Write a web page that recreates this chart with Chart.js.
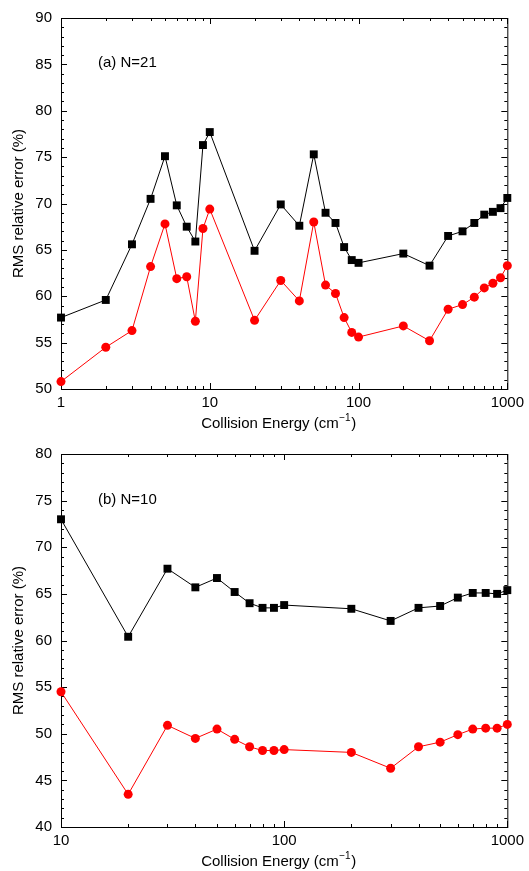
<!DOCTYPE html>
<html>
<head>
<meta charset="utf-8">
<script src="https://cdn.jsdelivr.net/npm/chart.js@4.4.1/dist/chart.umd.min.js"></script>
<style>
body { margin: 0; background: #fff; }
canvas { display: block; }
</style>
</head>
<body>
<canvas id="chartA" width="529" height="436"></canvas>
<canvas id="chartB" width="529" height="435"></canvas>
<script>
// panel (a) N=21
const energyA = [1, 2, 3, 4, 5, 6, 7, 8, 9, 10, 20, 30, 40, 50, 60, 70, 80, 90, 100, 200, 300, 400, 500, 600, 700, 800, 900, 1000];
const squaresA = [57.7, 59.6, 65.6, 70.5, 75.1, 69.8, 67.5, 65.9, 76.3, 77.7, 64.9, 69.9, 67.6, 75.3, 69.0, 67.9, 65.3, 63.9, 63.6, 64.6, 63.3, 66.5, 67.0, 67.9, 68.8, 69.1, 69.5, 70.6];
const circlesA = [50.8, 54.5, 56.3, 63.2, 67.8, 61.9, 62.1, 57.3, 67.3, 69.4, 57.4, 61.7, 59.5, 68.0, 61.2, 60.3, 57.7, 56.1, 55.6, 56.8, 55.2, 58.6, 59.1, 59.9, 60.9, 61.4, 62.0, 63.3];
const decadesA = [1, 10, 100, 1000];

// panel (b) N=10
const energyB = [10, 20, 30, 40, 50, 60, 70, 80, 90, 100, 200, 300, 400, 500, 600, 700, 800, 900, 1000];
const squaresB = [73.0, 60.4, 67.7, 65.7, 66.7, 65.2, 64.0, 63.5, 63.5, 63.8, 63.4, 62.1, 63.5, 63.7, 64.6, 65.1, 65.1, 65.0, 65.4];
const circlesB = [54.5, 43.5, 50.9, 49.5, 50.5, 49.4, 48.6, 48.2, 48.2, 48.3, 48.0, 46.3, 48.6, 49.1, 49.9, 50.5, 50.6, 50.6, 51.0];
const decadesB = [10, 100, 1000];

const FONT = '"Liberation Sans", Arial, Helvetica, sans-serif';
Chart.defaults.font.family = FONT;
Chart.defaults.font.size = 15;
Chart.defaults.color = '#000';

// box with inward ticks on all four sides, plus titles and panel label
const framePlugin = {
    id: 'frame',
    beforeDatasetsDraw(chart, args, opts) {
        const { ctx, chartArea: a, scales: { x, y } } = chart;
        ctx.save();
        ctx.strokeStyle = '#000';
        ctx.lineWidth = 1;
        ctx.strokeRect(a.left + 0.5, a.top + 0.5, a.right - a.left, a.bottom - a.top);
        ctx.beginPath();
        opts.decades.forEach(d => {
            for (let m = 1; m < 10; m++) {
                const v = d * m;
                if (v < x.min || v > x.max) continue;
                const px = Math.round(x.getPixelForValue(v)) + 0.5;
                const len = m === 1 ? 6 : 3;
                ctx.moveTo(px, a.bottom); ctx.lineTo(px, a.bottom - len);
                ctx.moveTo(px, a.top); ctx.lineTo(px, a.top + len);
            }
        });
        for (let v = y.min; v <= y.max; v++) {
            const py = Math.round(y.getPixelForValue(v)) + 0.5;
            const len = v % 5 === 0 ? 6 : 3;
            ctx.moveTo(a.left, py); ctx.lineTo(a.left + len, py);
            ctx.moveTo(a.right, py); ctx.lineTo(a.right - len, py);
        }
        ctx.stroke();
        ctx.restore();
    },
    afterDraw(chart, args, opts) {
        const { ctx, chartArea: a } = chart;
        ctx.save();
        ctx.fillStyle = '#000';
        ctx.textBaseline = 'middle';

        // panel label
        ctx.font = '15px ' + FONT;
        ctx.textAlign = 'left';
        ctx.fillText(opts.label, 98, opts.labelY);

        // x title with superscript
        const main = 'Collision Energy (cm';
        const sup = '\u22121';
        const w1 = ctx.measureText(main).width;
        const w3 = ctx.measureText(')').width;
        ctx.font = '10px ' + FONT;
        const w2 = ctx.measureText(sup).width;
        let tx = (a.left + a.right) / 2 - 6 - (w1 + w2 + w3) / 2;
        const ty = a.bottom + 35;
        ctx.font = '15px ' + FONT;
        ctx.fillText(main, tx, ty);
        ctx.font = '10px ' + FONT;
        ctx.fillText(sup, tx + w1 + 0.5, ty - 6);
        ctx.font = '15px ' + FONT;
        ctx.fillText(')', tx + w1 + w2 + 1, ty);

        // y title
        ctx.translate(19, (a.top + a.bottom) / 2);
        ctx.rotate(-Math.PI / 2);
        ctx.textAlign = 'center';
        ctx.fillText('RMS relative error (%)', 0, 0);
        ctx.restore();
    }
};

function makePanel(id, energy, squares, circles, decades, yMin, yMax, opts) {
    const toPoints = vals => vals.map((v, i) => ({ x: energy[i], y: v }));
    return new Chart(document.getElementById(id), {
        type: 'line',
        data: {
            datasets: [{
                data: toPoints(squares),
                borderColor: '#000',
                backgroundColor: '#000',
                borderWidth: 1,
                pointStyle: 'rect',
                pointRadius: 5.6,
                pointBorderWidth: 0,
                clip: false
            }, {
                data: toPoints(circles),
                borderColor: '#ff0000',
                backgroundColor: '#ff0000',
                borderWidth: 1,
                pointStyle: 'circle',
                pointRadius: 4.5,
                pointBorderWidth: 0,
                clip: false
            }]
        },
        options: {
            responsive: false,
            animation: false,
            devicePixelRatio: 1,
            layout: { padding: { top: opts.top, right: 19, left: 0, bottom: 0 } },
            plugins: {
                legend: { display: false },
                tooltip: { enabled: false },
                frame: { decades: decades, label: opts.label, labelY: opts.labelY }
            },
            scales: {
                x: {
                    type: 'logarithmic',
                    min: decades[0],
                    max: decades[decades.length - 1],
                    grid: { display: false, drawTicks: false },
                    border: { display: false },
                    afterBuildTicks: s => { s.ticks = decades.map(v => ({ value: v })); },
                    afterFit: s => { s.height = opts.xHeight; },
                    ticks: { autoSkip: false, maxRotation: 0, padding: 5, callback: v => String(v) }
                },
                y: {
                    min: yMin,
                    max: yMax,
                    grid: { display: false, drawTicks: false },
                    border: { display: false },
                    afterFit: s => { s.width = 61; },
                    ticks: { stepSize: 5, padding: 9 }
                }
            }
        },
        plugins: [framePlugin]
    });
}

makePanel('chartA', energyA, squaresA, circlesA, decadesA, 50, 90,
    { top: 15, xHeight: 47, label: '(a) N=21', labelY: 63 });
makePanel('chartB', energyB, squaresB, circlesB, decadesB, 40, 80,
    { top: 17, xHeight: 44, label: '(b) N=10', labelY: 64 });
</script>
</body>
</html>
